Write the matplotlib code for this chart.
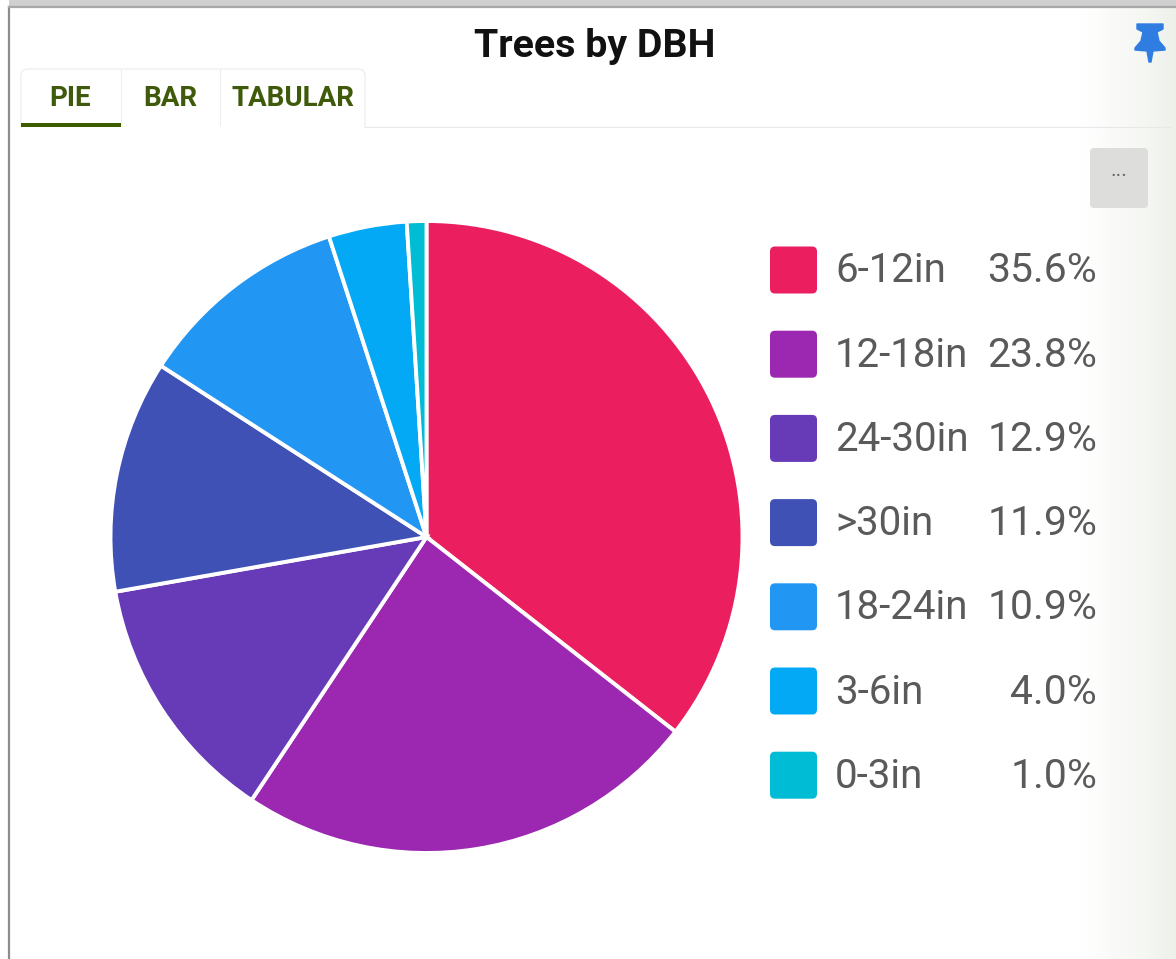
#! /usr/bin/python3

# trees by DBH pie, drawn with the card around it
import numpy as np
import matplotlib
matplotlib.use('Agg')
import matplotlib.pyplot as plt
from matplotlib.patches import FancyBboxPatch, Polygon, Rectangle

plt.rcParams['font.family'] = ['Roboto', 'DejaVu Sans']

title = 'Trees by DBH'
tabs = ['PIE', 'BAR', 'TABULAR']
categories = ['6-12in', '12-18in', '24-30in', '>30in', '18-24in', '3-6in', '0-3in']
values = [35.6, 23.8, 12.9, 11.9, 10.9, 4.0, 1.0]
colors = ['#eb1f60', '#9c27b0', '#673ab7', '#3f51b5', '#2196f3', '#03a9f4', '#00bcd4']

W, H = 1176, 959
fig = plt.figure(figsize=(W / 100, H / 100), dpi=100)

# background layer in pixel coords, y going down like the screenshot
bg = fig.add_axes([0, 0, 1, 1])
bg.set_xlim(0, W)
bg.set_ylim(H, 0)
bg.axis('off')

# slight grey-green fade at the right edge of the card
fade = np.linspace(0, 1, 100).reshape(1, -1)
fade_cmap = matplotlib.colors.LinearSegmentedColormap.from_list('fade', ['#ffffff', '#fafbf9', '#f5f7f3', '#eef1ea'])
bg.imshow(fade, extent=[1080, W, H, 0], cmap=fade_cmap, aspect='auto', zorder=0)
bg.set_xlim(0, W)
bg.set_ylim(H, 0)

# window frame
bg.add_patch(Rectangle((0, 0), W, 6, fc='#d0d0d0', ec='none', zorder=1))
bg.add_patch(Rectangle((0, 0), 9, H, fc='white', ec='none', zorder=1))
bg.plot([9, 9], [7, H], color='#8c8c8c', lw=1.6, zorder=2)
bg.plot([9, W], [6.5, 6.5], color='#a8a8a8', lw=1.6, zorder=2)

bg.text(595, 46.5, title, ha='center', va='center', fontsize=28.4, fontweight='bold', color='#111111')

# tabs
bg.plot([365, 1171], [127, 127], color='#e8e8e8', lw=0.8, zorder=2)
bg.add_patch(FancyBboxPatch((21, 69), 344, 70, boxstyle='round,pad=0,rounding_size=7',
                            fc='white', ec='#ececec', lw=0.8, zorder=2))
bg.add_patch(Rectangle((18, 128), 350, 14, fc='white', ec='none', zorder=3))
bg.plot([121, 121], [69, 125], color='#eeeeee', lw=0.8, zorder=4)
bg.plot([220, 220], [69, 125], color='#eeeeee', lw=0.8, zorder=4)
bg.add_patch(Rectangle((21, 123), 100, 4, fc='#3d5c00', ec='none', zorder=5))
for name, x in zip(tabs, [70, 170, 293]):
    bg.text(x, 99, name, ha='center', va='center', fontsize=20, fontweight='bold',
            color='#3f5a0a', zorder=5)

# pin icon
pin = [(1137, 24), (1163, 24), (1163, 29), (1157, 32), (1159, 41), (1165, 48), (1165, 50), (1153, 51),
       (1151, 62), (1149, 62), (1147, 51), (1135, 50), (1135, 48), (1141, 41), (1143, 32), (1137, 29)]
bg.add_patch(Polygon(pin, closed=True, fc='#2f7de1', ec='#2f7de1', lw=1, joinstyle='round', zorder=5))

# "..." button
bg.add_patch(FancyBboxPatch((1090, 148), 58, 60, boxstyle='round,pad=0,rounding_size=4',
                            fc='#dddedc', ec='none', zorder=2))
bg.text(1119, 170, '...', ha='center', va='center', fontsize=15, color='#666666', zorder=3)

# pie, centre (426.5, 537), radius 316 px
ax = fig.add_axes([110.5 / W, 1 - 853 / H, 632 / W, 632 / H])
ax.patch.set_alpha(0)
ax.pie(values, colors=colors, startangle=90, counterclock=False, radius=1,
       wedgeprops={'edgecolor': 'white', 'linewidth': 2.8}, frame=False)
ax.set_xlim(-1, 1)
ax.set_ylim(-1, 1)
for w in ax.patches:
    w.set_clip_on(False)

# legend
legend_y = 271
for name, val, col in zip(categories, values, colors):
    bg.add_patch(FancyBboxPatch((770, legend_y - 24.5), 47, 47, boxstyle='round,pad=0,rounding_size=5',
                                fc=col, ec='none', zorder=3))
    bg.text(835, legend_y, name, ha='left', va='center', fontsize=29, color='#5a5a5a', zorder=3)
    bg.text(1097, legend_y, '%.1f%%' % val, ha='right', va='center', fontsize=29.4, color='#5a5a5a', zorder=3)
    legend_y = legend_y + 84.2

fig.savefig('out.png', dpi=100)
